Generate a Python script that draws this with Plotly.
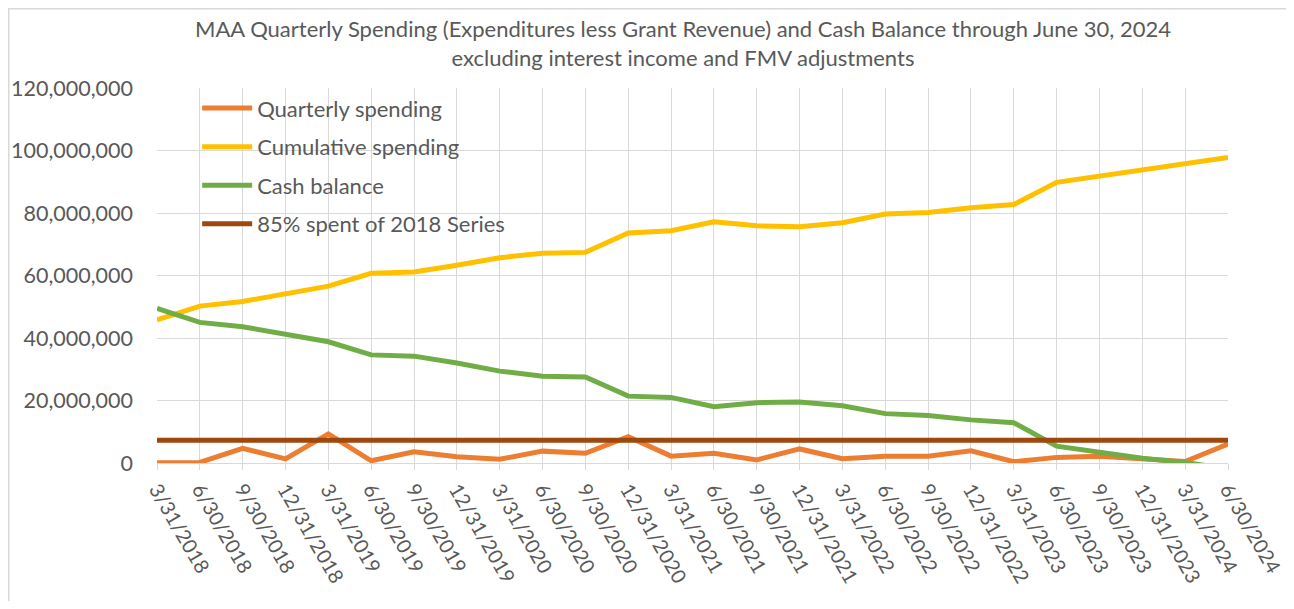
import plotly.graph_objects as go

quarters = ["3/31/2018", "6/30/2018", "9/30/2018", "12/31/2018",
            "3/31/2019", "6/30/2019", "9/30/2019", "12/31/2019",
            "3/31/2020", "6/30/2020", "9/30/2020", "12/31/2020",
            "3/31/2021", "6/30/2021", "9/30/2021", "12/31/2021",
            "3/31/2022", "6/30/2022", "9/30/2022", "12/31/2022",
            "3/31/2023", "6/30/2023", "9/30/2023", "12/31/2023",
            "3/31/2024", "6/30/2024"]

quarterly_spending = [0.1, 0.2, 4.7, 1.3, 9.3, 0.7, 3.6, 2.0, 1.2, 3.8, 3.1, 8.4,
                      2.2, 3.1, 1.0, 4.5, 1.4, 2.2, 2.2, 3.9, 0.4, 1.8, 2.2, 1.4,
                      0.5, 6.1]
cumulative_spending = [45.8, 50.2, 51.7, 54.2, 56.6, 60.7, 61.1, 63.3, 65.7, 67.1, 67.4, 73.6,
                       74.3, 77.2, 75.9, 75.6, 76.9, 79.7, 80.2, 81.7, 82.7, 89.8, 91.7, 93.8,
                       95.9, 97.8]
cash_balance = [49.5, 45.0, 43.6, 41.2, 38.8, 34.6, 34.2, 32.0, 29.4, 27.8, 27.5, 21.4,
                21.0, 18.0, 19.3, 19.5, 18.3, 15.8, 15.2, 13.8, 12.9, 5.4, 3.4, 1.5,
                0.2, -1.9]
threshold_85 = [7.3] * len(quarters)

M = 1_000_000
series = [
    ("Quarterly spending", quarterly_spending, "#ED7D31"),
    ("Cumulative spending", cumulative_spending, "#FFC000"),
    ("Cash balance", cash_balance, "#70AD47"),
    ("85% spent of 2018 Series", threshold_85, "#9E480E"),
]

FONT = "Lato"
GRAY = "#595959"

W, H = 1278, 593
L, R, T, B = 149, 58, 80, 138
PW, PH = W - L - R, H - T - B

fig = go.Figure()
for i, (name, vals, color) in enumerate(series):
    fig.add_trace(go.Scatter(
        x=quarters, y=[v * M for v in vals], name=name, mode="lines",
        line=dict(color=color, width=5), legendgroup=f"g{i}",
    ))

fig.update_layout(
    width=W, height=H,
    paper_bgcolor="white", plot_bgcolor="white",
    margin=dict(l=L, r=R, t=T, b=B, autoexpand=False),
    title=dict(
        text="MAA Quarterly Spending (Expenditures less Grant Revenue) and Cash Balance through June 30, 2024"
             "<br>excluding interest income and FMV adjustments",
        x=(683 - 8) / W, xanchor="center", xref="container",
        y=1 - 29 / H, yanchor="top", yref="container",
        font=dict(family=FONT, size=22, color=GRAY),
    ),
    showlegend=True,
    legend=dict(
        x=0.0375, y=1.002, xanchor="left", yanchor="top",
        bgcolor="rgba(0,0,0,0)", font=dict(family=FONT, size=22, color=GRAY),
        traceorder="grouped", tracegroupgap=7, itemwidth=50,
    ),
    font=dict(family=FONT, color=GRAY),
)
fig.update_xaxes(
    type="category", range=[0, len(quarters) - 1], automargin=False,
    showgrid=True, gridcolor="#D9D9D9", gridwidth=1,
    showline=False, zeroline=False,
    ticks="outside", ticklen=6, tickcolor="#D9D9D9",
    tickangle=60, tickfont=dict(family=FONT, size=20, color=GRAY),
)
fig.update_yaxes(
    range=[0, 120 * M], dtick=20 * M, tickformat=",", automargin=False,
    showgrid=True, gridcolor="#D9D9D9", gridwidth=1,
    zeroline=True, zerolinecolor="#D9D9D9", zerolinewidth=1,
    showline=False, ticks="", ticklabelstandoff=23,
    tickfont=dict(family=FONT, size=21.5, color=GRAY),
)
fig.add_shape(type="rect", xref="paper", yref="paper",
              x0=(0.75 - L) / PW, x1=1.3, y0=-0.6, y1=(T + PH - 0.75) / PH,
              line=dict(color="#D9D9D9", width=1.5), fillcolor="rgba(0,0,0,0)", layer="below")

fig.write_html("out.html")
